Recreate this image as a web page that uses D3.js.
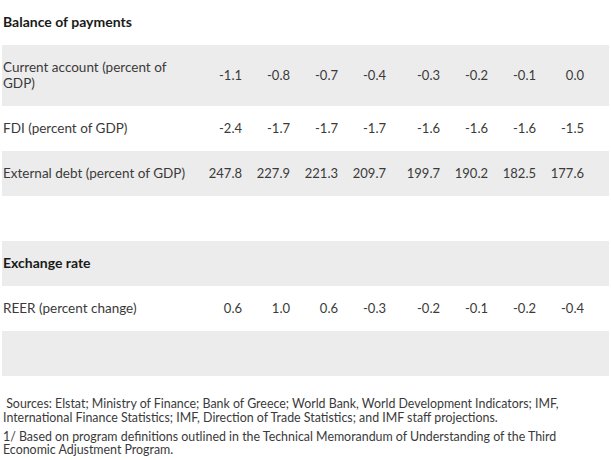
<!DOCTYPE html>
<html>
<head>
<meta charset="utf-8">
<script src="https://cdn.jsdelivr.net/npm/d3@7"></script>
<style>
  html, body { margin: 0; padding: 0; background: #fff; }
  svg { display: block; font-family: Lato, "Open Sans", sans-serif; }
</style>
</head>
<body>
<div id="chart"></div>
<script>
// Table rows: section headers, data rows and empty spacer rows
const rowLabels = [
  "Balance of payments",
  "Current account (percent of\nGDP)",
  "FDI (percent of GDP)",
  "External debt (percent of GDP)",
  "",
  "Exchange rate",
  "REER (percent change)",
  ""
];
const rowKinds = ["section", "data", "data", "data", "blank", "section", "data", "blank"];

const currentAccount = [-1.1, -0.8, -0.7, -0.4, -0.3, -0.2, -0.1, 0.0];
const fdi = [-2.4, -1.7, -1.7, -1.7, -1.6, -1.6, -1.6, -1.5];
const externalDebt = [247.8, 227.9, 221.3, 209.7, 199.7, 190.2, 182.5, 177.6];
const reer = [0.6, 1.0, 0.6, -0.3, -0.2, -0.1, -0.2, -0.4];
const rowValues = [null, currentAccount, fdi, externalDebt, null, null, reer, null];

const footnotes = [
  [" Sources: Elstat; Ministry of Finance; Bank of Greece; World Bank, World Development Indicators; IMF,",
   "International Finance Statistics; IMF, Direction of Trade Statistics; and IMF staff projections."],
  ["1/ Based on program definitions outlined in the Technical Memorandum of Understanding of the Third",
   "Economic Adjustment Program."]
];

const width = 611;
const height = 460;
const rowH = 45;
const tallRowH = 61;
// plain hyphen for negatives, as in the source table
const fmt = d3.formatLocale({ decimal: ".", thousands: ",", grouping: [3], currency: ["", ""], minus: "-" }).format(".1f");

const svg = d3.select("#chart").append("svg")
  .attr("width", width)
  .attr("height", height);

// Row tops: the two-line row is taller than the others
const heights = rowLabels.map(l => (l.includes("\n") ? tallRowH : rowH));
const tops = heights.map((h, i) => d3.sum(heights.slice(0, i)));

// Value columns are right-aligned; a small gap separates the first four from the last four
const nCols = currentAccount.length;
const xCol = d3.scaleLinear().domain([0, nCols - 1]).range([242, 578]);
const colX = i => xCol(i + (i >= 4 ? 0.125 : 0));

rowLabels.forEach((label, i) => {
  const y0 = tops[i];
  const h = heights[i];
  const cy = y0 + h / 2;

  if (i % 2 === 1) {
    svg.append("rect")
      .attr("x", 2)
      .attr("y", y0)
      .attr("width", 607)
      .attr("height", h)
      .attr("fill", "#ececec");
  }

  if (rowKinds[i] === "section") {
    svg.append("text")
      .attr("x", 3)
      .attr("y", cy)
      .attr("dy", "0.35em")
      .style("font-size", "14px")
      .style("font-weight", "bold")
      .style("fill", "#1a1a1a")
      .text(label);
  } else if (rowKinds[i] === "data") {
    const lines = label.split("\n");
    const lineH = 16;
    lines.forEach((line, j) => {
      svg.append("text")
        .attr("x", 3)
        .attr("y", cy + (j - (lines.length - 1) / 2) * lineH)
        .attr("dy", "0.35em")
        .style("font-size", "13.5px")
        .style("fill", "#3a3a3a")
        .text(line);
    });

    rowValues[i].forEach((v, c) => {
      svg.append("text")
        .attr("x", colX(c))
        .attr("y", cy)
        .attr("dy", "0.35em")
        .attr("text-anchor", "end")
        .style("font-size", "13px")
        .style("fill", "#3a3a3a")
        .text(fmt(v));
    });
  }
});

// Footnotes
const noteTop = tops[tops.length - 1] + heights[heights.length - 1] + 28;
let ny = noteTop;
footnotes.forEach(note => {
  note.forEach(line => {
    svg.append("text")
      .attr("x", 3)
      .attr("y", ny)
      .attr("dy", "0.35em")
      .style("font-size", "12.4px")
      .style("fill", "#3a3a3a")
      .style("white-space", "pre")
      .text(line);
    ny += 13.5;
  });
  ny += 5.5;
});
</script>
</body>
</html>
